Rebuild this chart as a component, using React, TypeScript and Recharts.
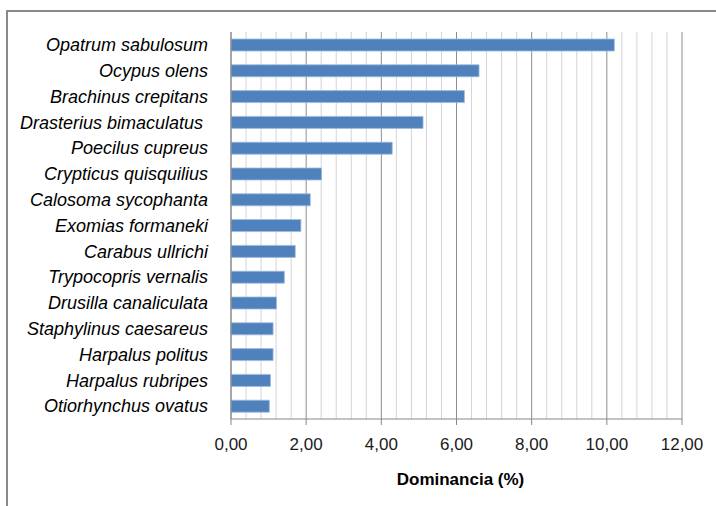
import React from "react";
import { Bar, BarChart, CartesianGrid, XAxis, YAxis } from "recharts";

const species = [
  "Opatrum sabulosum",
  "Ocypus olens",
  "Brachinus crepitans",
  "Drasterius bimaculatus ",
  "Poecilus cupreus",
  "Crypticus quisquilius",
  "Calosoma sycophanta",
  "Exomias formaneki",
  "Carabus ullrichi",
  "Trypocopris vernalis",
  "Drusilla canaliculata",
  "Staphylinus caesareus",
  "Harpalus politus",
  "Harpalus rubripes",
  "Otiorhynchus ovatus",
];

const dominance = [10.2, 6.6, 6.21, 5.11, 4.29, 2.41, 2.11, 1.86, 1.71, 1.42, 1.21, 1.12, 1.12, 1.05, 1.02];

const majorTicks = [0, 2, 4, 6, 8, 10, 12];
const minorTicks = [
  0.4, 0.8, 1.2, 1.6, 2.4, 2.8, 3.2, 3.6, 4.4, 4.8, 5.2, 5.6, 6.4, 6.8, 7.2, 7.6,
  8.4, 8.8, 9.2, 9.6, 10.4, 10.8, 11.2, 11.6,
];

const data = species.map((name, i) => ({ name, value: dominance[i] }));

const FONT = "'Liberation Sans', Arial, sans-serif";

const fmt = (v: number) => v.toFixed(2).replace(".", ",");

// maps values to x pixels through the axis scale when recharts hands it over
const gridGen = (values: number[]) => (props: any) => {
  const scale = props?.xAxis?.scale;
  if (scale && typeof scale === "function") return values.map((v) => scale(v));
  if (scale && typeof scale.map === "function") return values.map((v) => scale.map(v));
  const { offset } = props;
  return values.map((v) => offset.left + (v / 12) * offset.width);
};

function SpeciesTick({ x, y, payload }: any) {
  return (
    <text
      x={x}
      y={y}
      dy="0.35em"
      textAnchor="end"
      fontFamily={FONT}
      fontSize={18}
      fontStyle="italic"
      fill="#000"
      style={{ whiteSpace: "pre" }}
    >
      {payload.value}
    </text>
  );
}

export default function App() {
  return (
    <div style={{ position: "absolute", left: 0, top: 0, width: 716, height: 506, background: "#fff", overflow: "hidden" }}>
      <BarChart
        width={716}
        height={506}
        data={data}
        layout="vertical"
        margin={{ top: 32, right: 34, bottom: 12, left: 0 }}
        barSize={12}
      >
        <CartesianGrid
          horizontal={false}
          stroke="#d4d4d4"
          strokeWidth={1}
          verticalCoordinatesGenerator={gridGen(minorTicks)}
        />
        <CartesianGrid
          horizontal={false}
          stroke="#8e8e8e"
          strokeWidth={1}
          verticalCoordinatesGenerator={gridGen(majorTicks)}
        />
        <XAxis
          type="number"
          domain={[0, 12]}
          ticks={majorTicks}
          tickFormatter={fmt}
          height={75}
          stroke="#868686"
          tickSize={6}
          tickMargin={13}
          tick={{ fill: "#1a1a1a", fontSize: 17, fontFamily: FONT }}
          label={{
            value: "Dominancia (%)",
            position: "insideBottom",
            offset: 9,
            fill: "#000",
            fontSize: 17,
            fontWeight: "bold",
            fontFamily: FONT,
            dx: 4,
          }}
        />
        <YAxis
          type="category"
          dataKey="name"
          width={231}
          stroke="#868686"
          tickLine={false}
          tickMargin={17}
          tick={<SpeciesTick />}
          interval={0}
        />
        <Bar
          dataKey="value"
          fill="#4f81bd"
          stroke="#9dbbe0"
          strokeWidth={0.8}
          isAnimationActive={false}
        />
      </BarChart>
      {/* frame of the original figure */}
      <div style={{ position: "absolute", left: 6, top: 10, width: 710, height: 2, background: "#8a8a8a" }} />
      <div style={{ position: "absolute", left: 6, top: 10, width: 2, height: 496, background: "#8a8a8a" }} />
    </div>
  );
}
